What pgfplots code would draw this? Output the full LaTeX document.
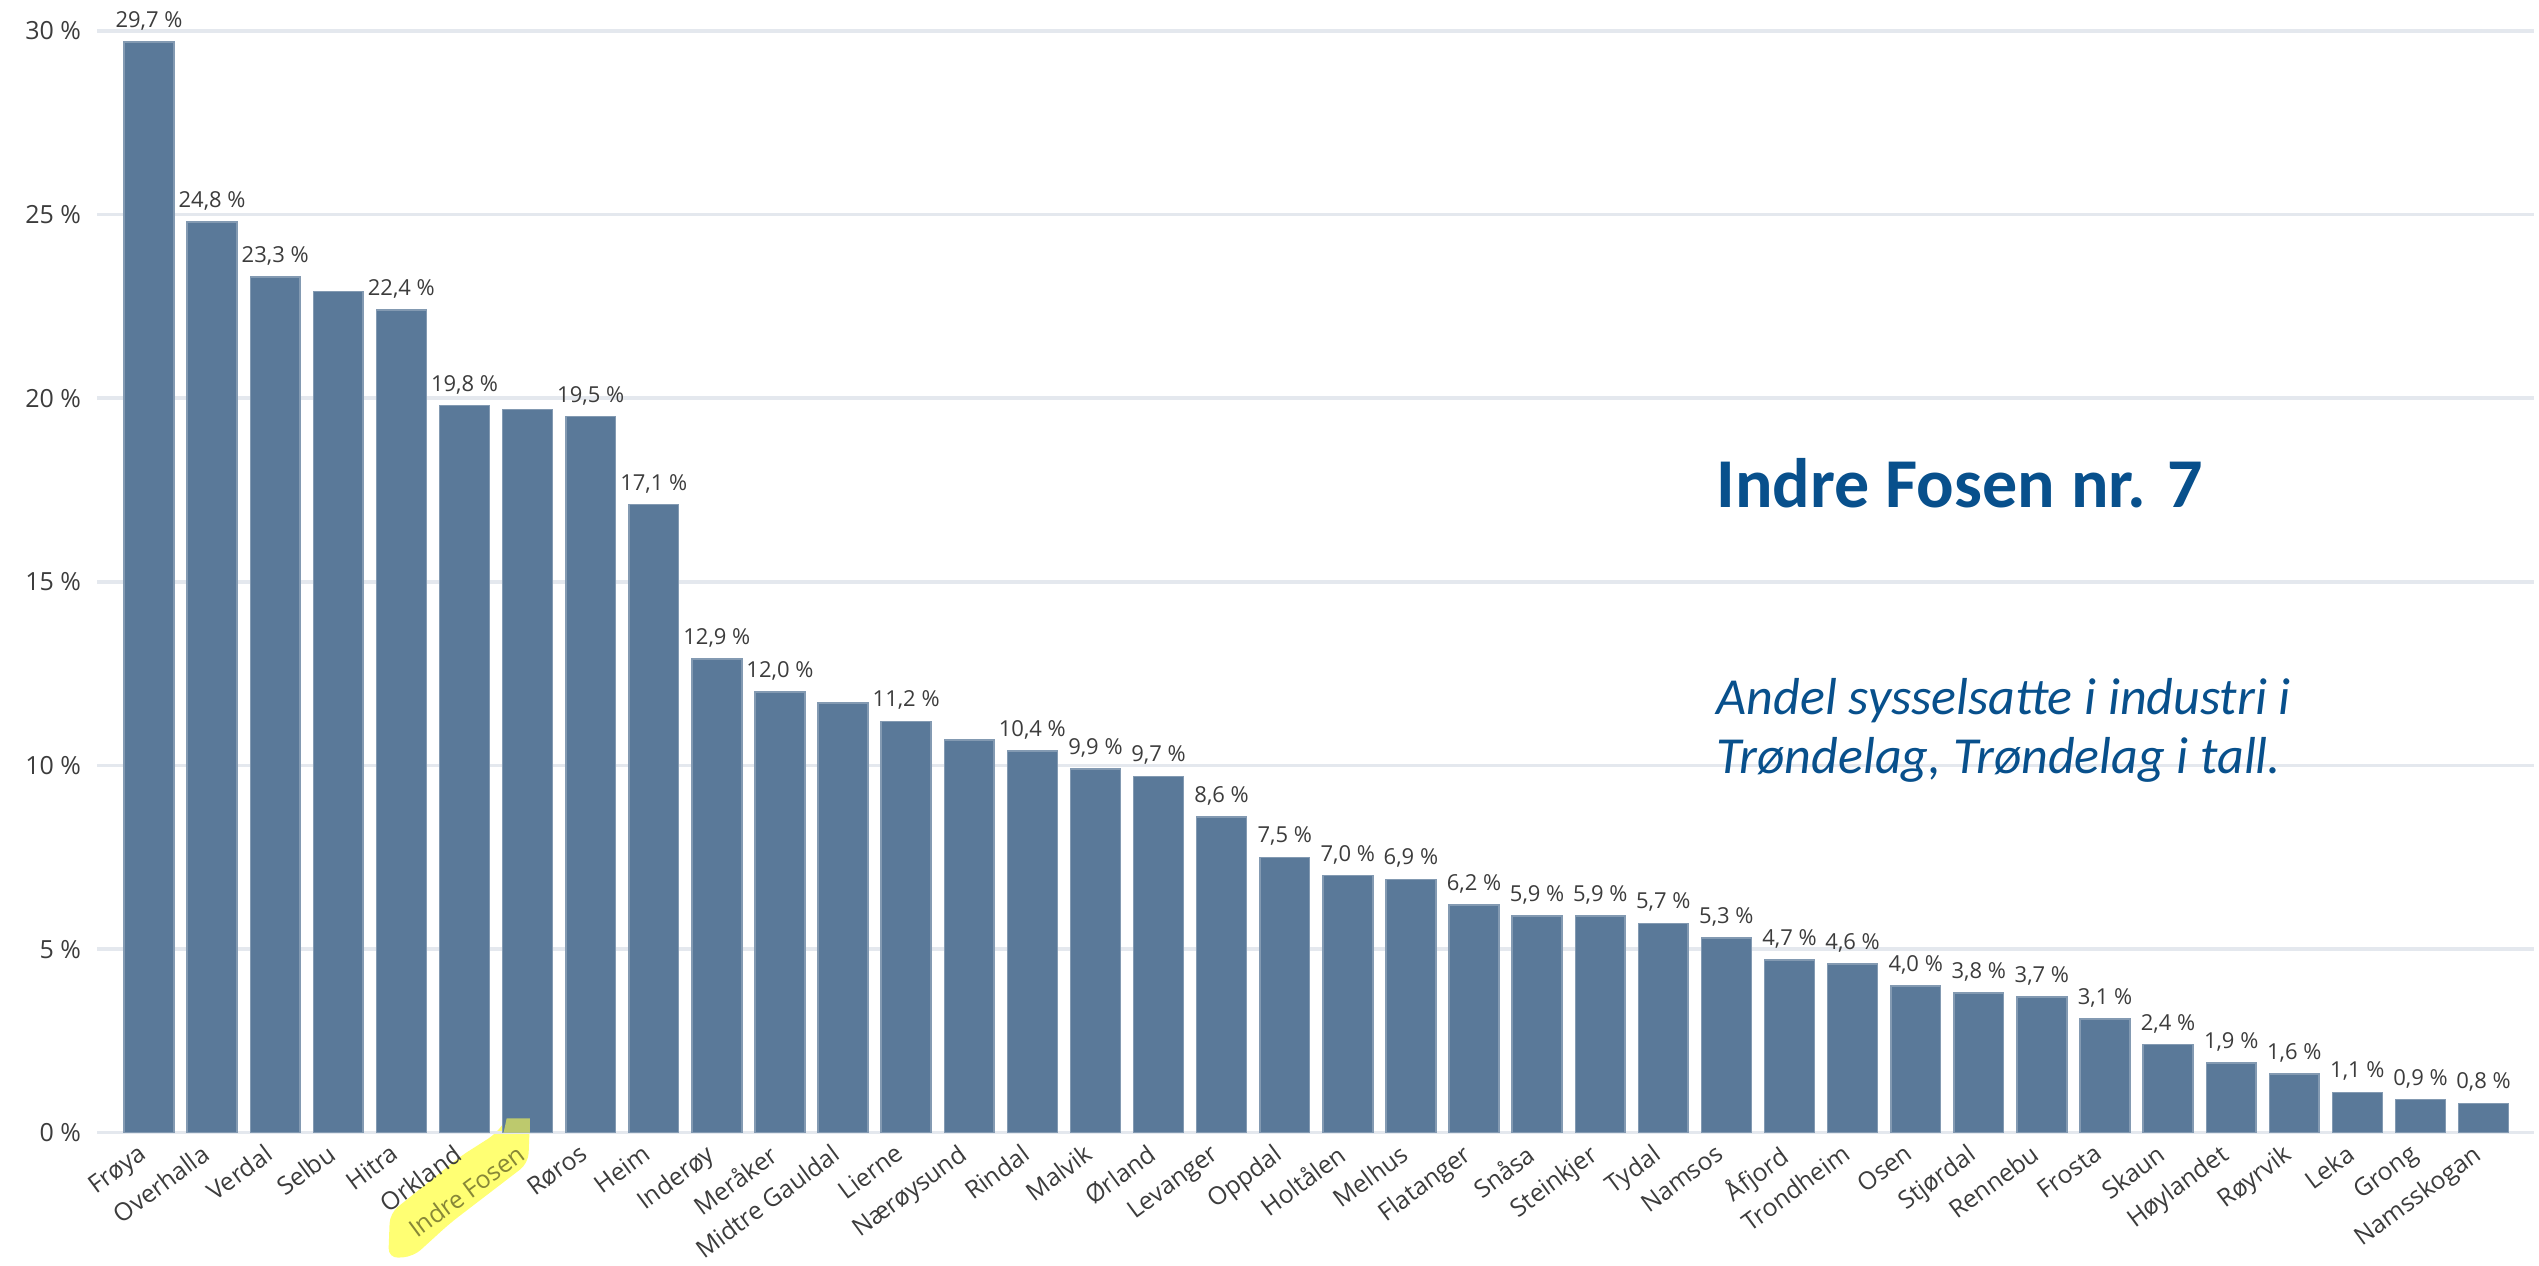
\documentclass[border=0pt]{standalone}
\usepackage{pgfplots}
\pgfplotsset{compat=1.18}
\usepackage{fontspec}
\setmainfont{Open Sans}
\newfontfamily\calibri{Carlito}
\definecolor{barc}{RGB}{90,121,153}
\definecolor{gridc}{RGB}{228,232,238}
\definecolor{txt}{RGB}{60,60,60}
\definecolor{titlec}{RGB}{8,80,140}
\definecolor{hl}{RGB}{255,255,80}
\definecolor{hltext}{RGB}{135,135,55}
\begin{document}
\begin{tikzpicture}
\begin{axis}[
  set layers,
  at={(0,0)}, anchor=south west,
  scale only axis, width=487.4pt, height=226.5pt,
  xmin=-0.824, xmax=37.8, ymin=0, ymax=30.84,
  axis line style={draw=none},
  major tick length=0pt,
  ymajorgrids, grid style={gridc, line width=0.7pt},
  ytick={0,5,10,15,20,25,30},
  yticklabels={0 \%,5 \%,10 \%,15 \%,20 \%,25 \%,30 \%},
  yticklabel style={font=\fontsize{5.0pt}{6pt}\selectfont, text=txt, anchor=east, inner sep=0pt, xshift=-3pt},
  xtick={0,...,37},
  xticklabels={Frøya,Overhalla,Verdal,Selbu,Hitra,Orkland,{\color{hltext}Indre Fosen},Røros,Heim,Inderøy,Meråker,Midtre Gauldal,Lierne,Nærøysund,Rindal,Malvik,Ørland,Levanger,Oppdal,Holtålen,Melhus,Flatanger,Snåsa,Steinkjer,Tydal,Namsos,Åfjord,Trondheim,Osen,Stjørdal,Rennebu,Frosta,Skaun,Høylandet,Røyrvik,Leka,Grong,Namsskogan},
  xticklabel style={font=\fontsize{4.95pt}{6pt}\selectfont, text=txt, xshift=-2.4pt, yshift=-1.8pt, rotate=36.5, anchor=north east, inner sep=0pt},
  clip=false,
  /pgf/number format/assume math mode=true,
]
% highlighter (behind the tick labels)
\begin{pgfonlayer}{axis background}
\fill[hl, opacity=0.8, rounded corners=2pt]
  (axis cs:5.669,0.392) -- (axis cs:6.038,0.392) -- (axis cs:6.011,-0.833)
  -- (axis cs:4.770,-2.467) -- (axis cs:4.189,-3.376) -- (axis cs:3.792,-3.419)
  -- (axis cs:3.819,-2.194) -- (axis cs:4.929,-0.653) -- (axis cs:5.510,-0.016) -- cycle;
\end{pgfonlayer}
% labelled bars
\addplot[ybar, bar width=0.79, bar shift=0pt, fill=barc, draw=barc!75!white, line width=0.3pt,
  point meta=y,
  nodes near coords={\pgfmathprintnumber[fixed,fixed zerofill,precision=1,use comma]{\pgfplotspointmeta}~\%},
  every node near coord/.append style={font=\fontsize{4.4pt}{5pt}\selectfont, text=txt, anchor=base, inner sep=0pt, yshift=2.9pt}]
coordinates {
(0,29.7) (1,24.8) (2,23.3) (4,22.4) (5,19.8) (7,19.5) (8,17.1) (9,12.9) (10,12.0)
(12,11.2) (14,10.4) (15,9.9) (16,9.7) (17,8.6) (18,7.5) (19,7.0) (20,6.9) (21,6.2)
(22,5.9) (23,5.9) (24,5.7) (25,5.3) (26,4.7) (27,4.6) (28,4.0) (29,3.8) (30,3.7)
(31,3.1) (32,2.4) (33,1.9) (34,1.6) (35,1.1) (36,0.9) (37,0.8)
};
% bars without labels
\addplot[ybar, bar width=0.79, bar shift=0pt, fill=barc, draw=barc!75!white, line width=0.3pt]
coordinates {(3,22.9) (6,19.7) (11,11.7) (13,10.7)};
% highlight overlay on bar bottom
\fill[hl, opacity=0.6]
  (axis cs:5.669,0.392) -- (axis cs:6.038,0.392) -- (axis cs:6.036,0) -- (axis cs:5.62,0) -- cycle;
\node[anchor=base west, inner sep=0pt, text=titlec, font=\calibri\bfseries\fontsize{14pt}{16pt}\selectfont]
  at (axis cs:24.83,17.03) {Indre Fosen nr. 7};
\node[anchor=base west, inner sep=0pt, text=titlec, font=\calibri\itshape\fontsize{10.4pt}{12pt}\selectfont]
  at (axis cs:24.83,11.4) {Andel sysselsatte i industri i};
\node[anchor=base west, inner sep=0pt, text=titlec, font=\calibri\itshape\fontsize{10.4pt}{12pt}\selectfont]
  at (axis cs:24.83,9.77) {Trøndelag, Trøndelag i tall.};
\end{axis}
\pgfresetboundingbox
\useasboundingbox (-19.4pt,-26.66pt) rectangle (488.4pt,226.54pt);
\end{tikzpicture}
\end{document}
